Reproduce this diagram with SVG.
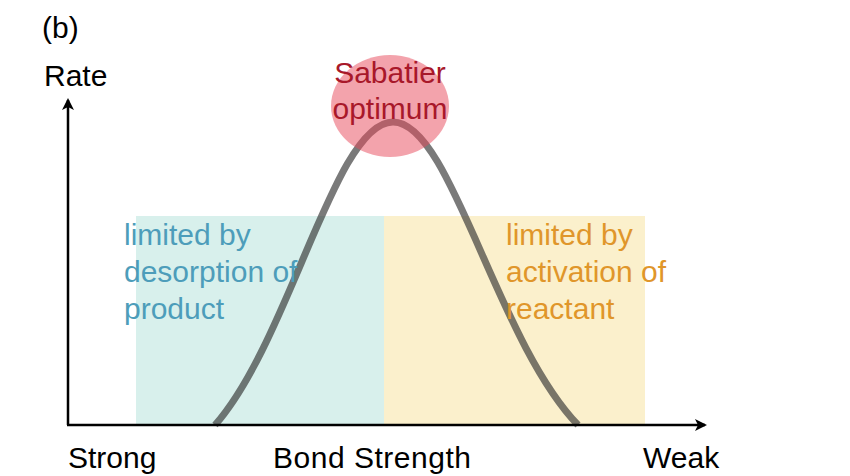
<svg xmlns="http://www.w3.org/2000/svg" width="850" height="476" viewBox="0 0 850 476">
<defs>
<marker id="ah" markerWidth="12" markerHeight="12" refX="10" refY="6" orient="auto" markerUnits="userSpaceOnUse"><path d="M0,0 L12,6 L0,12 L3,6 Z" fill="#000"/></marker>
<style>
text{font-family:"Liberation Sans",Arial,sans-serif;font-size:30px}
.t{fill:#4d9dba}.o{fill:#e0962a}.s{fill:#a8182a;text-anchor:middle}
</style>
</defs>
<rect width="850" height="476" fill="#fff"/>
<g id="regions">
<rect x="136" y="216" width="248" height="209" fill="#d8f0ec"/>
<rect x="384" y="216" width="261" height="209" fill="#fbf0cc"/>
</g>
<g id="curve">
<path d="M215,425 C290,340 335,122 393,122 C451,122 496,340 578,425" fill="none" stroke="#333" stroke-opacity="0.65" stroke-width="7"/>
</g>
<g id="sabatier">
<ellipse cx="390" cy="106" rx="59" ry="51" fill="#e8485a" fill-opacity="0.5"/>
<text class="s" x="390" y="83">Sabatier</text>
<text class="s" x="390" y="119">optimum</text>
</g>
<g id="axes">
<line x1="68" y1="425" x2="68" y2="100" stroke="#000" stroke-width="2.5" marker-end="url(#ah)"/>
<line x1="67" y1="425" x2="705" y2="425" stroke="#000" stroke-width="2.5" marker-end="url(#ah)"/>
</g>
<g id="labels">
<text x="42" y="38">(b)</text>
<text x="44" y="86">Rate</text>
<text x="68" y="468">Strong</text>
<text x="273" y="468" textLength="198">Bond Strength</text>
<text x="643" y="468">Weak</text>
<text class="t" x="124" y="245">limited by</text>
<text class="t" x="124" y="282">desorption of</text>
<text class="t" x="124" y="319">product</text>
<text class="o" x="506" y="245">limited by</text>
<text class="o" x="506" y="282">activation of</text>
<text class="o" x="506" y="319">reactant</text>
</g>
</svg>
